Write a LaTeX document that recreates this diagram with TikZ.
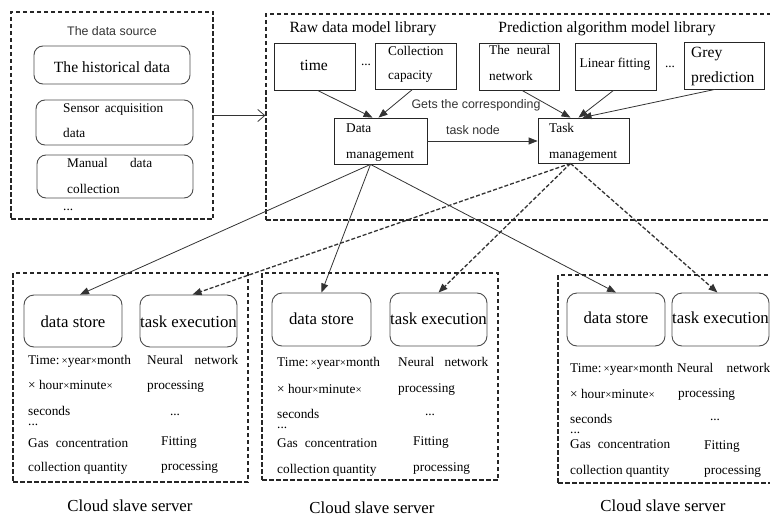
\documentclass[tikz,border=0pt]{standalone}
\usepackage{fontspec}
\setmainfont{Liberation Serif}
\newfontfamily\labelsans{Liberation Sans}
\usetikzlibrary{arrows.meta,fit}

\tikzset{
  frame/.style={draw=black!85, line width=1.3pt, dash pattern=on 4.5pt off 2.5pt, inner sep=0pt},
  sqbox/.style={draw=black!85, line width=0.8pt, inner sep=0pt},
  rndbox/.style={draw=black!70, line width=0.9pt, rounded corners=9pt, inner sep=0pt},
  txt/.style={inner sep=0pt, font=\fontsize{13.3}{16}\selectfont},
  big/.style={inner sep=0pt, font=\fontsize{15.6}{18}\selectfont},
  huge/.style={inner sep=0pt, font=\fontsize{16.8}{20}\selectfont},
  sans/.style={inner sep=0pt, font=\labelsans\fontsize{12.4}{14}\selectfont, text=black!80},
  link/.style={draw=black!80, line width=0.8pt, -{Triangle[length=9pt,width=7pt]}},
  dlink/.style={link, line width=1.3pt, dash pattern=on 4pt off 2pt},
  openlink/.style={draw=black!80, line width=0.8pt, -{Straight Barb[length=7pt,width=12pt]}},
}

\newcommand{\smx}{{\fontsize{11}{12}\selectfont ×}}

\begin{document}
\begin{tikzpicture}[x=1pt, y=-1pt]
\useasboundingbox (0,0) rectangle (770,516);

% ---------- data source ----------
\node[frame, fit={(11,12) (213,219)}] (src) {};
\node[sans, anchor=base] (srcT) at (112,36) {The data source};
\node[rndbox, fit={(34,46) (190,84)}] (hist) {};
\node[big, anchor=base] (histT) at (112,73) {The historical data};
\node[rndbox, fit={(36,100) (193,145)}] (sensor) {};
\node[txt, anchor=base west] (sensorA) at (63,112.5) {\makebox[100pt][l]{Sensor\hfill acquisition}};
\node[txt, anchor=base west] (sensorB) at (63,137.5) {data};
\node[rndbox, fit={(37,155) (193,198)}] (manual) {};
\node[txt, anchor=base west] (manualA) at (67,167.5) {\makebox[85pt][l]{Manual\hfill data}};
\node[txt, anchor=base west] (manualB) at (67,193.5) {collection};
\node[txt, anchor=base west] (srcMore) at (63,210) {...};

% ---------- model libraries ----------
\node[frame, fit={(266,14) (790,220)}] (lib) {};
\node[big, anchor=base] (rawT) at (363,33) {Raw data model library};
\node[big, anchor=base] (predT) at (607,33) {Prediction algorithm model library};

\node[sqbox, fit={(274,43) (355,90)}] (time) {};
\node[big, anchor=base] (timeT) at (314,71) {time};
\node[txt, anchor=base] (rawMore) at (366,66) {...};
\node[sqbox, fit={(375,43) (456,89)}] (capac) {};
\node[txt, anchor=base west] (capacA) at (388,56) {Collection};
\node[txt, anchor=base west] (capacB) at (388,80) {capacity};

\node[sqbox, fit={(479,43) (559,90)}] (neural) {};
\node[txt, anchor=base west] (neuralA) at (489,55) {\makebox[61pt][l]{The\hfill neural}};
\node[txt, anchor=base west] (neuralB) at (489,81) {network};
\node[sqbox, fit={(575,43) (656,90)}] (linear) {};
\node[txt, anchor=base] (linearT) at (615,68) {Linear fitting};
\node[txt, anchor=base] (predMore) at (670,68) {...};
\node[sqbox, fit={(684,42) (764,89)}] (grey) {};
\node[big, anchor=base west] (greyA) at (691,58) {Grey};
\node[big, anchor=base west] (greyB) at (691,83) {prediction};

\node[sqbox, fit={(334,118) (427,164)}] (dm) {};
\node[txt, anchor=base west] (dmA) at (346,132) {Data};
\node[txt, anchor=base west] (dmB) at (346,158) {management};
\node[sqbox, fit={(538,118) (629,163)}] (tm) {};
\node[txt, anchor=base west] (tmA) at (549,132) {Task};
\node[txt, anchor=base west] (tmB) at (549,158) {management};

\node[sans, anchor=base] (getsT) at (476,109) {Gets the corresponding};
\node[sans, anchor=base] (nodeT) at (473,135) {task node};

% ---------- cloud slave servers ----------
\node[frame, fit={(13,273) (248,482)}] (srv1) {};
\node[frame, fit={(262,273) (498,480)}] (srv2) {};
\node[frame, fit={(558,275) (790,483)}] (srv3) {};

\node[rndbox, rounded corners=10pt, fit={(24,295) (122,347)}] (ds1) {};
\node[rndbox, rounded corners=10pt, fit={(140,295) (237,347)}] (te1) {};
\node[rndbox, rounded corners=10pt, fit={(272,293) (371,346)}] (ds2) {};
\node[rndbox, rounded corners=10pt, fit={(390,293) (487,346)}] (te2) {};
\node[rndbox, rounded corners=10pt, fit={(567,293) (665,346)}] (ds3) {};
\node[rndbox, rounded corners=10pt, fit={(672,293) (769,346)}] (te3) {};

\node[huge, anchor=base] (ds1T) at (73,327) {data store};
\node[huge, anchor=base] (te1T) at (188.5,327) {task execution};
\node[huge, anchor=base] (ds2T) at (321.5,324) {data store};
\node[huge, anchor=base] (te2T) at (438.5,324) {task execution};
\node[huge, anchor=base] (ds3T) at (616,323) {data store};
\node[huge, anchor=base] (te3T) at (720.5,323) {task execution};

% server 1 contents
\node[txt, anchor=base west] (s1a) at (28,364) {Time:\,\smx year\smx month};
\node[txt, anchor=base west] (s1b) at (28,389) {× hour\smx minute\smx};
\node[txt, anchor=base west] (s1c) at (28,415) {seconds};
\node[txt, anchor=base west] (s1d) at (28,425) {...};
\node[txt, anchor=base west] (s1e) at (28,447) {\makebox[100pt][l]{Gas\hfill concentration}};
\node[txt, anchor=base west] (s1f) at (28,471) {collection quantity};
\node[txt, anchor=base west] (s1g) at (147,364) {\makebox[91pt][l]{Neural\hfill network}};
\node[txt, anchor=base west] (s1h) at (147,389) {processing};
\node[txt, anchor=base] (s1i) at (175,415) {...};
\node[txt, anchor=base west] (s1j) at (161,445) {Fitting};
\node[txt, anchor=base west] (s1k) at (161,470) {processing};
\node[huge, anchor=base] (srv1T) at (130,511) {Cloud slave server};

% server 2 contents
\node[txt, anchor=base west] (s2a) at (277,366) {Time:\,\smx year\smx month};
\node[txt, anchor=base west] (s2b) at (277,393) {× hour\smx minute\smx};
\node[txt, anchor=base west] (s2c) at (277,418) {seconds};
\node[txt, anchor=base west] (s2d) at (277,428) {...};
\node[txt, anchor=base west] (s2e) at (277,447) {\makebox[100pt][l]{Gas\hfill concentration}};
\node[txt, anchor=base west] (s2f) at (277,473) {collection quantity};
\node[txt, anchor=base west] (s2g) at (398,366) {\makebox[90pt][l]{Neural\hfill network}};
\node[txt, anchor=base west] (s2h) at (398,392) {processing};
\node[txt, anchor=base] (s2i) at (430,415) {...};
\node[txt, anchor=base west] (s2j) at (413,445) {Fitting};
\node[txt, anchor=base west] (s2k) at (413,471) {processing};
\node[huge, anchor=base] (srv2T) at (372,513) {Cloud slave server};

% server 3 contents
\node[txt, anchor=base west] (s3a) at (570,372) {Time:\,\smx year\smx month};
\node[txt, anchor=base west] (s3b) at (570,398) {× hour\smx minute\smx};
\node[txt, anchor=base west] (s3c) at (570,423) {seconds};
\node[txt, anchor=base west] (s3d) at (570,433) {...};
\node[txt, anchor=base west] (s3e) at (570,448) {\makebox[100pt][l]{Gas\hfill concentration}};
\node[txt, anchor=base west] (s3f) at (570,474) {collection quantity};
\node[txt, anchor=base west] (s3g) at (677,372) {\makebox[93pt][l]{Neural\hfill network}};
\node[txt, anchor=base west] (s3h) at (678,397) {processing};
\node[txt, anchor=base] (s3i) at (715,420) {...};
\node[txt, anchor=base west] (s3j) at (704,449) {Fitting};
\node[txt, anchor=base west] (s3k) at (704,474) {processing};
\node[huge, anchor=base] (srv3T) at (663,511) {Cloud slave server};

% ---------- connectors ----------
\draw[openlink] (src.east) -- (src.east -| lib.west);

\draw[link] ([xshift=3pt]time.south) -- ([xshift=-8pt]dm.north);
\draw[link] ([xshift=-3pt]capac.south) -- ([xshift=-2pt]dm.north);
\draw[link] ([xshift=3pt]neural.south) -- ([xshift=-13pt]tm.north);
\draw[link] ([xshift=-2pt]linear.south) -- ([xshift=-5pt]tm.north);
\draw[link] ([xshift=-9pt]grey.south) -- ([xshift=-1pt]tm.north);
\draw[link] (dm.east) -- (dm.east -| tm.west);

\coordinate (dmOut) at ([xshift=-10pt]dm.south);
\coordinate (tmOut) at ([xshift=-13pt]tm.south);
\draw[link] (dmOut) -- ([xshift=7pt]ds1.north);
\draw[link] (dmOut) -- (ds2.north);
\draw[link] (dmOut) -- (ds3.north);
\draw[dlink] (tmOut) -- ([xshift=4pt]te1.north);
\draw[dlink] (tmOut) -- (te2.north);
\draw[dlink] (tmOut) -- ([xshift=-3pt]te3.north);
\end{tikzpicture}
\end{document}
